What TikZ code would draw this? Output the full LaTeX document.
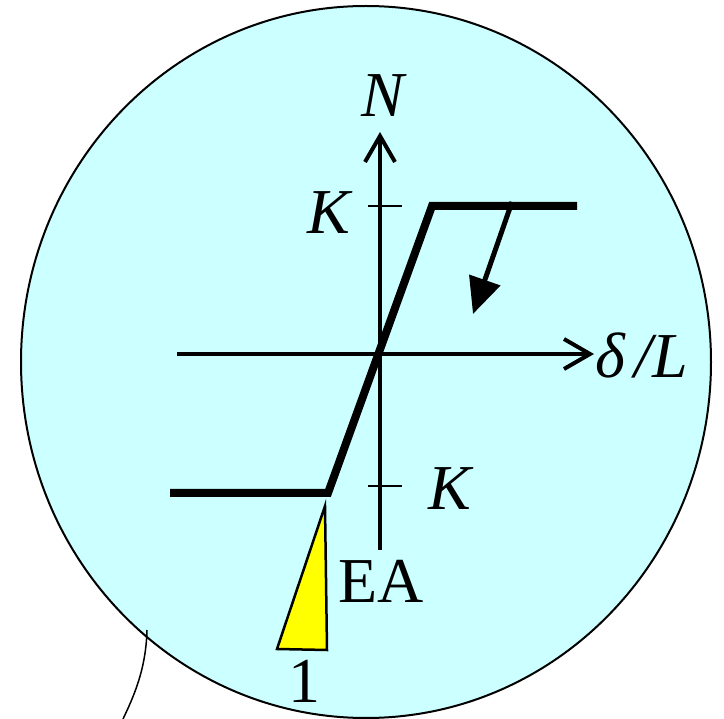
\documentclass[tikz,border=0pt]{standalone}
\usepackage{fontspec}
\setmainfont{Liberation Serif}
\usetikzlibrary{arrows.meta}
\definecolor{bgcyan}{HTML}{CCFFFF}
\definecolor{tri}{HTML}{FFFF00}
\begin{document}
\begin{tikzpicture}[x=1pt,y=-1pt,
  axis/.style={line width=4pt,-{Straight Barb[length=26pt,width=30pt,line width=4pt]}},
  tick/.style={line width=2.5pt},
  curve/.style={line width=8pt,line join=miter},
  lbl/.style={font=\fontsize{64}{66}\selectfont,inner sep=0pt}]
\useasboundingbox (0,0) rectangle (724,719);
\draw[line width=2pt,fill=bgcyan] (366,362) ellipse [x radius=345, y radius=356];
\draw[line width=1.5pt] (147,630) .. controls (146,665) and (137,690) .. (123,719);
% axes
\coordinate (vb) at (380,550);
\coordinate (vt) at (380,132);
\coordinate (hl) at (177,354);
\coordinate (hr) at (594,354);
\draw[axis] (vb) -- (vt);
\draw[axis] (hl) -- (hr);
% ticks
\coordinate (t1a) at (368,206); \coordinate (t1b) at (402,206);
\coordinate (t2a) at (368,486); \coordinate (t2b) at (402,486);
\draw[tick] (t1a) -- (t1b);
\draw[tick] (t2a) -- (t2b);
% curve
\coordinate (c1) at (170,493);
\coordinate (c2) at (328,493);
\coordinate (c3) at (432,206);
\coordinate (c4) at (577,206);
\draw[curve] (c1) -- (c2) -- (c3) -- (c4);
% unloading arrow
\coordinate (a1) at (512,202);
\coordinate (a2) at (473,314);
\draw[line width=5pt,-{Triangle[length=36pt,width=32pt]}] (a1) -- (a2);
% triangle
\coordinate (y1) at (325,506);
\coordinate (y2) at (277,649);
\coordinate (y3) at (327,650);
\draw[line width=2.5pt,fill=tri,line join=miter] (y1) -- (y2) -- (y3) -- cycle;
% labels
\node[lbl] (N) at (383,96) {\itshape N};
\node[lbl] (K1) at (329,213) {\itshape K};
\node[lbl] (K2) at (450,489) {\itshape K};
\node[lbl] (dL) at (642,355) {\itshape δ\hspace{9pt}/L};
\node[lbl] (EA) at (381,581) {EA};
\node[lbl] (one) at (304,681) {1};
\end{tikzpicture}
\end{document}
